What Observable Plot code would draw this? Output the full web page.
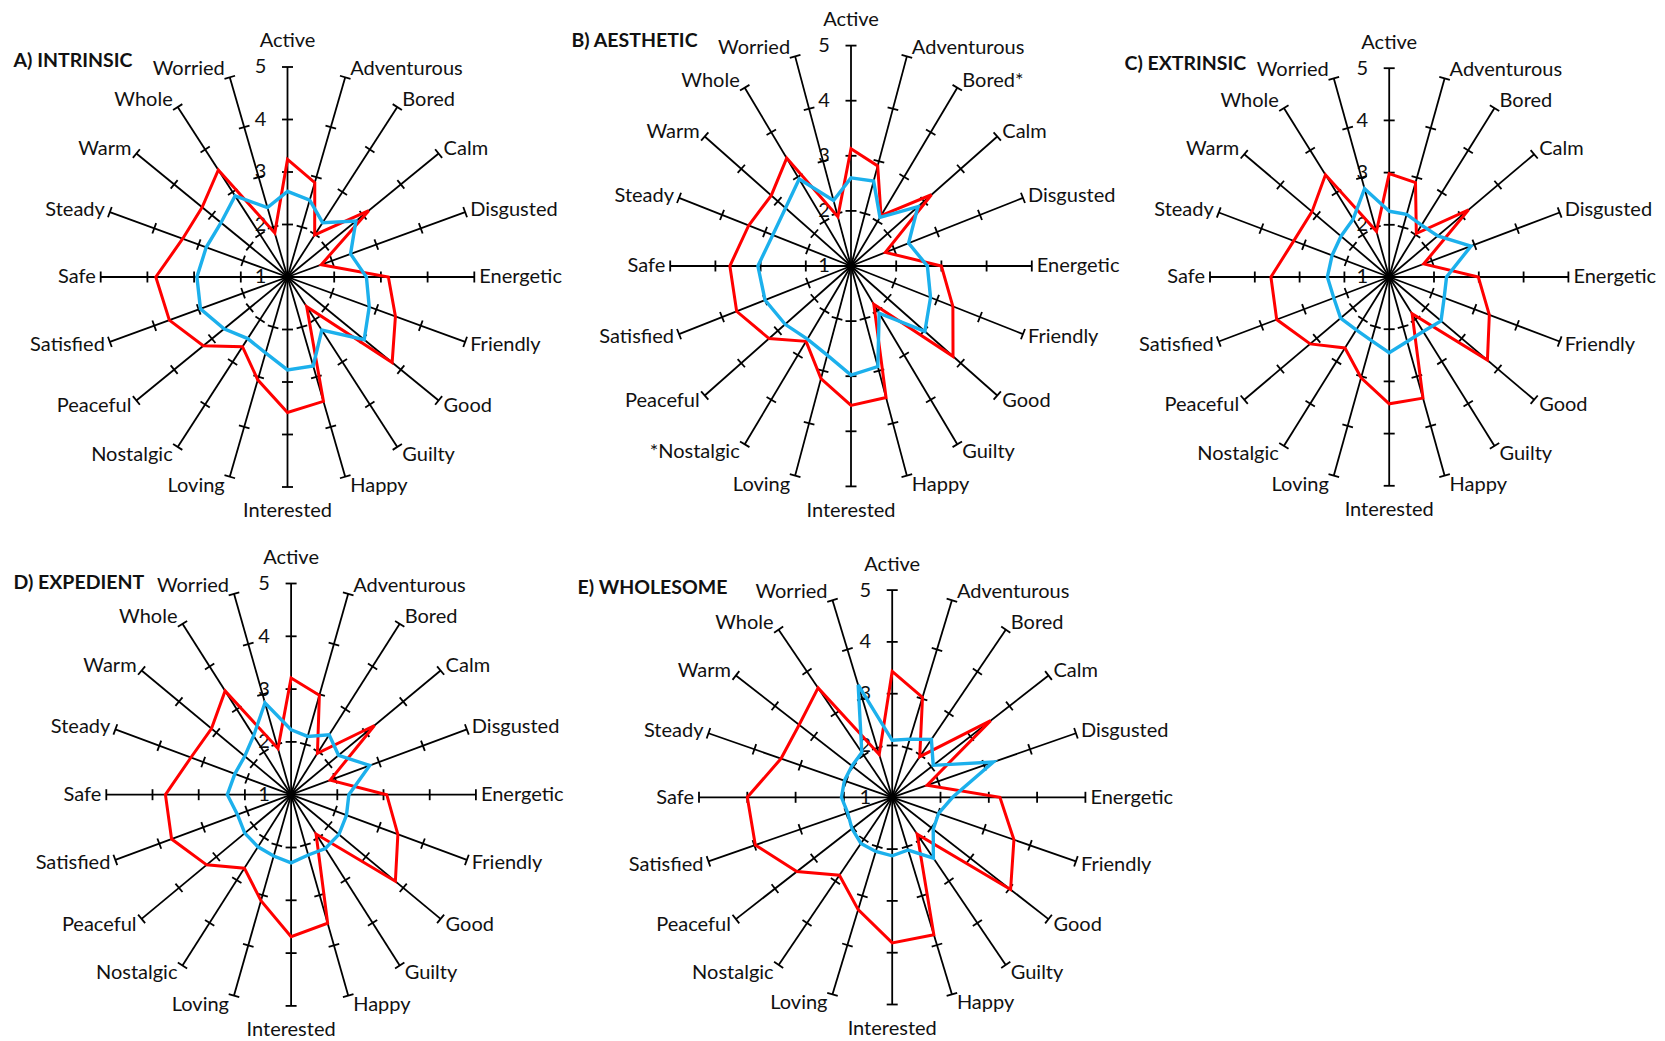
<!DOCTYPE html>
<html>
<head>
<meta charset="utf-8">
<script src="https://cdn.jsdelivr.net/npm/d3@7"></script>
<script src="https://cdn.jsdelivr.net/npm/@observablehq/plot@0.6"></script>
<style>
  html, body { margin: 0; padding: 0; background: #ffffff; }
  #page { position: relative; width: 1665px; height: 1041px; overflow: hidden; background: #ffffff; }
</style>
</head>
<body>
<div id="page"></div>
<script>
// ---------- data ----------
const categories = ["Active","Adventurous","Bored","Calm","Disgusted","Energetic","Friendly","Good","Guilty","Happy",
  "Interested","Loving","Nostalgic","Peaceful","Satisfied","Safe","Steady","Warm","Whole","Worried"];
const labelsAesthetic = ["Active","Adventurous","Bored*","Calm","Disgusted","Energetic","Friendly","Good","Guilty","Happy",
  "Interested","Loving","*Nostalgic","Peaceful","Satisfied","Safe","Steady","Warm","Whole","Worried"];
const titles = ["A) INTRINSIC", "B) AESTHETIC", "C) EXTRINSIC", "D) EXPEDIENT", "E) WHOLESOME"];
const scaleTicks = [1, 2, 3, 4, 5];

const intrinsicRed  = [3.24, 2.89, 1.99, 3.15, 1.76, 3.16, 3.43, 3.77, 1.70, 3.49, 3.58, 3.06, 2.64, 3.23, 3.66, 3.82, 3.36, 3.26, 3.52, 1.88];
const intrinsicBlue = [2.63, 2.54, 2.28, 2.81, 2.42, 2.69, 2.84, 3.03, 2.25, 2.78, 2.77, 2.52, 2.45, 2.68, 2.96, 2.94, 2.83, 2.76, 2.91, 2.39];

const aestheticRed  = [3.13, 2.91, 2.13, 3.20, 1.80, 3.00, 3.37, 3.79, 1.86, 3.51, 3.53, 3.15, 2.69, 3.24, 3.66, 3.68, 3.38, 3.18, 3.42, 1.94];
const aestheticBlue = [2.60, 2.62, 2.09, 2.83, 2.34, 2.69, 2.85, 3.02, 2.06, 2.92, 2.98, 2.70, 2.64, 2.80, 3.00, 3.06, 2.82, 2.79, 2.95, 2.25];

const extrinsicRed  = [2.98, 2.90, 2.03, 3.19, 1.81, 2.99, 3.35, 3.71, 1.87, 3.44, 3.43, 3.03, 2.68, 3.18, 3.64, 3.64, 3.24, 3.13, 3.42, 1.92];
const extrinsicBlue = [2.26, 2.26, 2.23, 2.34, 2.92, 2.28, 2.29, 2.43, 2.29, 2.30, 2.45, 2.28, 2.25, 2.34, 2.30, 2.38, 2.34, 2.33, 2.37, 2.78];

const expedientRed  = [3.21, 2.98, 1.97, 3.23, 1.89, 3.07, 3.43, 3.79, 1.92, 3.56, 3.69, 3.11, 2.72, 3.26, 3.72, 3.72, 3.28, 3.13, 3.43, 1.92];
const expedientBlue = [2.23, 2.16, 2.40, 2.27, 2.79, 2.25, 2.26, 2.28, 2.26, 2.20, 2.29, 2.22, 2.22, 2.24, 2.22, 2.38, 2.28, 2.24, 2.38, 2.83];

const wholesomeRed  = [3.43, 3.03, 1.97, 3.52, 1.76, 3.23, 3.65, 4.03, 1.88, 3.79, 3.81, 3.28, 2.86, 3.44, 3.98, 4.00, 3.42, 3.38, 3.61, 1.87];
const wholesomeBlue = [2.10, 2.18, 2.38, 2.05, 3.20, 2.25, 2.01, 2.05, 2.45, 2.07, 2.13, 2.10, 2.10, 2.03, 1.97, 2.05, 2.04, 2.03, 2.07, 3.28];

// ---------- layout (pixels) ----------
const panels = [
  {title: titles[0], labels: categories,      red: intrinsicRed, blue: intrinsicBlue, box: [0, 0, 570, 520],     center: [287, 276.5],   unit: [46.7, 52.5], titleAt: [13, 60]},
  {title: titles[1], labels: labelsAesthetic, red: aestheticRed, blue: aestheticBlue, box: [570, 0, 550, 520],   center: [850.5, 265.5], unit: [45.2, 55.1], titleAt: [571, 40]},
  {title: titles[2], labels: categories,      red: extrinsicRed, blue: extrinsicBlue, box: [1120, 0, 545, 520],  center: [1388.7, 276.5],unit: [44.8, 52.2], titleAt: [1124, 63]},
  {title: titles[3], labels: categories,      red: expedientRed, blue: expedientBlue, box: [0, 520, 570, 521],   center: [290.6, 794.2], unit: [46.2, 52.8], titleAt: [13, 582]},
  {title: titles[4], labels: categories,      red: wholesomeRed, blue: wholesomeBlue, box: [570, 520, 550, 521], center: [891.7, 796.8], unit: [48.3, 51.8], titleAt: [577, 587]}
];

const RED = "#ff0000", BLUE = "#1cb0ec", INK = "#111111";
const FONT = "Lato, 'Open Sans', 'DejaVu Sans', sans-serif";
const vmin = 1, vmax = 5;
const n = categories.length;
const angle = i => i * 2 * Math.PI / n;

function drawPanel(p) {
  const [left, top, w, h] = p.box;
  const [cx, cy] = p.center;
  const [ux, uy] = p.unit;
  const R = vmax - vmin;

  const toPoints = vals => vals.map((v, i) => ({cat: categories[i], v, x: (v - vmin) * Math.sin(angle(i)), y: (v - vmin) * Math.cos(angle(i))}));
  const spokes = categories.map((c, i) => ({cat: c, x1: 0, y1: 0, x2: R * Math.sin(angle(i)), y2: R * Math.cos(angle(i))}));

  // tick marks perpendicular (in screen space) to each spoke at 2,3,4,5
  const half = 5.5;
  const ticks = [];
  categories.forEach((c, i) => {
    const s = Math.sin(angle(i)), co = Math.cos(angle(i));
    const px = co * uy, py = s * ux, L = Math.hypot(px, py);
    const ex = (px / L) * half / ux, ey = -(py / L) * half / uy;
    for (const t of scaleTicks.slice(1)) {
      const r = t - vmin;
      ticks.push({x1: r * s - ex, y1: r * co - ey, x2: r * s + ex, y2: r * co + ey});
    }
  });

  const labelMarks = p.labels.map((lab, i) => {
    const s = Math.sin(angle(i)), co = Math.cos(angle(i));
    let textAnchor, dx, dy;
    if (i === 0) { textAnchor = "middle"; dx = 0; dy = -26; }
    else if (i === n / 2) { textAnchor = "middle"; dx = 0; dy = 24; }
    else if (i < n / 2) { textAnchor = "start"; dx = 5; dy = -9 * co; }
    else { textAnchor = "end"; dx = -5; dy = -9 * co; }
    return Plot.text([lab], {x: R * s, y: R * co, text: d => d, textAnchor, dx, dy, fontSize: 20, fill: INK});
  });

  const svg = Plot.plot({
    width: w, height: h, margin: 0,
    x: {domain: [(left - cx) / ux, (left + w - cx) / ux], axis: null},
    y: {domain: [(cy - top - h) / uy, (cy - top) / uy], axis: null},
    style: {position: "absolute", left: left + "px", top: top + "px", background: "transparent", overflow: "visible", fontFamily: FONT, color: INK},
    marks: [
      Plot.text(scaleTicks, {x: 0, y: d => d - vmin, text: d => String(d), dx: -27, fontSize: 20, fill: INK}),
      Plot.link(spokes, {x1: "x1", y1: "y1", x2: "x2", y2: "y2", stroke: "#000", strokeWidth: 1.8}),
      Plot.link(ticks, {x1: "x1", y1: "y1", x2: "x2", y2: "y2", stroke: "#000", strokeWidth: 1.8}),
      ...labelMarks,
      Plot.line(toPoints(p.red), {x: "x", y: "y", curve: "linear-closed", stroke: RED, strokeWidth: 3, strokeLinejoin: "miter", strokeMiterlimit: 4}),
      Plot.line(toPoints(p.blue), {x: "x", y: "y", curve: "linear-closed", stroke: BLUE, strokeWidth: 3.4, strokeLinejoin: "miter", strokeMiterlimit: 4}),
      Plot.text([p.title], {frameAnchor: "top-left", text: d => d, dx: p.titleAt[0] - left, dy: p.titleAt[1] - top, textAnchor: "start", lineAnchor: "middle", fontWeight: "bold", fontSize: 19.5, fill: INK})
    ]
  });
  document.getElementById("page").appendChild(svg);
}

panels.forEach(drawPanel);
</script>
</body>
</html>
